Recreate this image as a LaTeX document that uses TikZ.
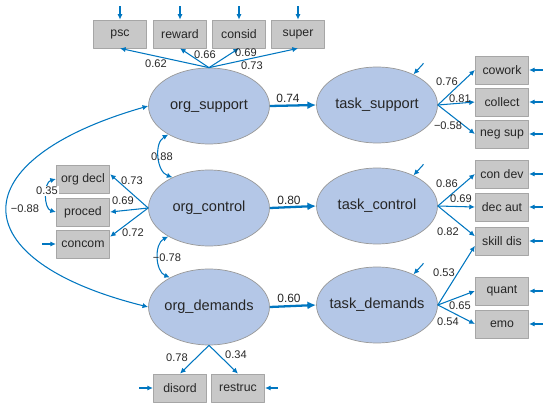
\documentclass[tikz,border=0pt]{standalone}
\usepackage{fontspec}
\setmainfont{Liberation Sans}
\usetikzlibrary{arrows.meta,shapes.geometric}
\definecolor{pathblue}{RGB}{0,118,192}
\definecolor{latfill}{RGB}{180,199,231}
\definecolor{obsfill}{RGB}{200,200,200}
\begin{document}
\begin{tikzpicture}[x=0.02cm,y=-0.02cm,>={Latex[length=3.2pt,width=3pt]}, line join=round,
	lat/.style={ellipse,draw=gray!80,fill=latfill,minimum width=2.42cm,minimum height=1.52cm,inner xsep=-8pt,inner ysep=0pt,font=\fontsize{8.3}{10}\selectfont,text=black!85},
	obs/.style={rectangle,draw=gray!70,fill=obsfill,minimum width=1.07cm,minimum height=0.56cm,inner sep=0pt,font=\fontsize{7}{8}\selectfont,text=black!85},
	ld/.style={draw=pathblue,line width=0.6pt,->},
	reg/.style={draw=pathblue,line width=1.3pt,-{Latex[length=5pt,width=4.5pt]}},
	cov/.style={draw=pathblue,line width=0.6pt,<->},
	err/.style={draw=pathblue,line width=0.6pt,<-},
	coef/.style={font=\fontsize{6.3}{7}\selectfont,inner sep=0pt,text=black!85},
	bcoef/.style={font=\fontsize{6.8}{8}\selectfont,inner sep=0pt,text=black!85}]
	\useasboundingbox (0,0) rectangle (550,408);
	
	% latente Variablen
	\node[lat] (os) at (209,106) {org\_support};
	\node[lat] (oc) at (209,208) {org\_control};
	\node[lat] (od) at (209,307) {org\_demands};
	\node[lat] (ts) at (377,105) {task\_support};
	\node[lat] (tc) at (377,206) {task\_control};
	\node[lat] (td) at (377,305) {task\_demands};
	
	% Indikatoren
	\node[obs] (psc) at (120,34) {psc};
	\node[obs] (reward) at (180,34) {reward};
	\node[obs] (consid) at (239,34) {consid};
	\node[obs] (super) at (298,34) {super};
	\node[obs] (orgdecl) at (83,179) {org decl};
	\node[obs] (proced) at (83,212) {proced};
	\node[obs] (concom) at (83,244) {concom};
	\node[obs] (disord) at (180,388) {disord};
	\node[obs] (restruc) at (238,388) {restruc};
	\node[obs] (cowork) at (502,70) {cowork};
	\node[obs] (collect) at (502,102) {collect};
	\node[obs] (negsup) at (502,134) {neg sup};
	\node[obs] (condev) at (502,174) {con dev};
	\node[obs] (decaut) at (502,207) {dec aut};
	\node[obs] (skilldis) at (502,241) {skill dis};
	\node[obs] (quant) at (502,291) {quant};
	\node[obs] (emo) at (502,324) {emo};
	
	% Ladungen
	\draw[ld] (os.north) -- (psc.south);
	\draw[ld] (os.north) -- (reward.south);
	\draw[ld] (os.north) -- (consid.south);
	\draw[ld] (os.north) -- (super.south);
	\draw[ld] (oc.west) -- (orgdecl.10);
	\draw[ld] (oc.west) -- (proced.east);
	\draw[ld] (oc.west) -- (concom.15);
	\draw[ld] (od.south) -- (disord.north);
	\draw[ld] (od.south) -- (restruc.north);
	\draw[ld] (ts.east) -- (cowork.west);
	\draw[ld] (ts.east) -- (collect.west);
	\draw[ld] (ts.east) -- (negsup.west);
	\draw[ld] (tc.east) -- (condev.west);
	\draw[ld] (tc.east) -- (decaut.west);
	\draw[ld] (tc.east) -- (skilldis.170);
	\draw[ld] (td.east) -- (skilldis.190);
	\draw[ld] (td.east) -- (quant.west);
	\draw[ld] (td.east) -- (emo.west);
	
	% Pfade
	\draw[reg] (os.east) -- (ts.west);
	\draw[reg] (oc.east) -- (tc.west);
	\draw[reg] (od.east) -- (td.west);
	
	% Kovarianzen
	\draw[cov] (os.215) to[bend right=65] (oc.140);
	\draw[cov] (oc.215) to[bend right=65] (od.143);
	\draw[cov] (orgdecl.west) to[bend right=75] (proced.west);
	\draw[cov] (os.west) .. controls (-40,160) and (-40,260) .. (od.west);
	
	% Fehler
	\draw[err] (psc.north) -- ++(0,-14);
	\draw[err] (reward.north) -- ++(0,-14);
	\draw[err] (consid.north) -- ++(0,-14);
	\draw[err] (super.north) -- ++(0,-14);
	\draw[err] (concom.west) -- ++(-14,0);
	\draw[err] (disord.west) -- ++(-14,0);
	\draw[err] (restruc.east) -- ++(13,0);
	\draw[err] (cowork.east) -- ++(14,0);
	\draw[err] (collect.east) -- ++(14,0);
	\draw[err] (negsup.east) -- ++(14,0);
	\draw[err] (condev.east) -- ++(14,0);
	\draw[err] (decaut.east) -- ++(14,0);
	\draw[err] (skilldis.east) -- ++(14,0);
	\draw[err] (quant.east) -- ++(14,0);
	\draw[err] (emo.east) -- ++(14,0);
	\draw[err] (ts.40) -- ++(10,-11);
	\draw[err] (tc.40) -- ++(10,-11);
	\draw[err] (td.40) -- ++(10,-11);
	
	% Koeffizienten
	\node[coef] (c1) at (156,64) {0.62};
	\node[coef] (c2) at (205,55) {0.66};
	\node[coef] (c3) at (246,53) {0.69};
	\node[coef] (c4) at (252,66) {0.73};
	\node[bcoef] (c5) at (288,98) {0.74};
	\node[bcoef] (c6) at (289,200) {0.80};
	\node[bcoef] (c7) at (289,298) {0.60};
	\node[coef] (c8) at (162,157) {0.88};
	\node[coef] (c9) at (167,258) {−0.78};
	\node[coef] (c10) at (25,209) {−0.88};
	\node[coef,fill=white,inner sep=0.5pt] (c11) at (47,191) {0.35};
	\node[coef] (c12) at (132,181) {0.73};
	\node[coef] (c13) at (123,201) {0.69};
	\node[coef] (c14) at (133,233) {0.72};
	\node[coef] (c15) at (177,358) {0.78};
	\node[coef] (c16) at (236,355) {0.34};
	\node[coef] (c17) at (447,82) {0.76};
	\node[coef] (c18) at (460,99) {0.81};
	\node[coef] (c19) at (448,126) {−0.58};
	\node[coef] (c20) at (447,184) {0.86};
	\node[coef] (c21) at (461,199) {0.69};
	\node[coef] (c22) at (448,232) {0.82};
	\node[coef] (c23) at (444,273) {0.53};
	\node[coef] (c24) at (460,306) {0.65};
	\node[coef] (c25) at (448,322) {0.54};
\end{tikzpicture}
\end{document}
